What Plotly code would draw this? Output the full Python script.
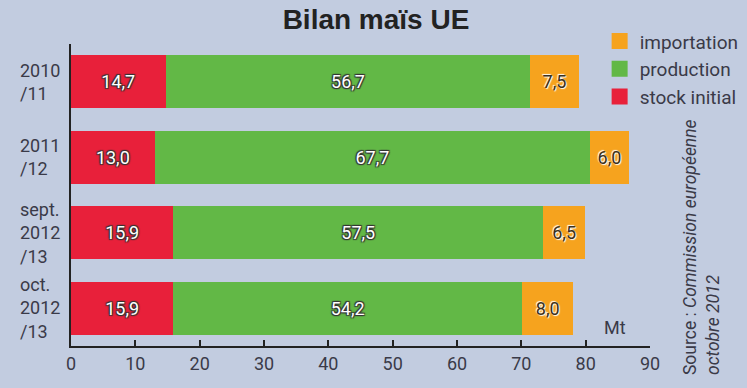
import plotly.graph_objects as go

categories = ["2010<br>/11", "2011<br>/12", "sept.<br>2012<br>/13", "oct.<br>2012<br>/13"]
stock_initial = [14.7, 13.0, 15.9, 15.9]
production = [56.7, 67.7, 57.5, 54.2]
importation = [7.5, 6.0, 6.5, 8.0]
x_ticks = [0, 10, 20, 30, 40, 50, 60, 70, 80, 90]

BG = "#c2cce0"
RED = "#e8203a"
GREEN = "#62b846"
ORANGE = "#f6a31e"
FONT = "Roboto, sans-serif"
TXT = "#3a3a48"

def fmt(v):
    return f"{v:.1f}".replace(".", ",")

fig = go.Figure()
dark_sh = "1px 1px 1px #333, -1px -1px 1px #333, 1px -1px 1px #333, -1px 1px 1px #333"
series = [
    ("stock initial", stock_initial, RED, "white", dark_sh),
    ("production", production, GREEN, "white", dark_sh),
    ("importation", importation, ORANGE, "#3a3020", "1px 1px 1px #fff, -1px -1px 1px #fff"),
]
for name, vals, col, tcol, sh in series:
    fig.add_trace(go.Bar(
        y=categories, x=vals, orientation="h", name=name,
        marker=dict(color=col, line=dict(width=0)),
        text=[fmt(v) for v in vals], textposition="inside",
        insidetextanchor="middle",
        textfont=dict(family=FONT, size=18, color=tcol, shadow=sh),
        showlegend=False, width=0.7,
    ))
for name, vals, col, tcol, sh in reversed(series):
    fig.add_trace(go.Scatter(
        x=[None], y=[None], mode="markers", name=name, legendgroup=name,
        marker=dict(symbol="square", size=20, color=col),
    ))

annotations = [
    dict(text=cat, x=-0.0915, y=cat, xref="paper", yref="y", xanchor="left",
         yanchor="middle", align="left", showarrow=False,
         font=dict(family=FONT, size=18, color=TXT))
    for cat in categories
]
annotations += [
    dict(text="Mt", x=84.5, y=3.25, xref="x", yref="y", showarrow=False,
         font=dict(family=FONT, size=18, color=TXT)),
    dict(text="Source : <i>Commission européenne</i><br><i>octobre 2012</i>",
         x=1.09, y=0.328, xref="paper", yref="paper", showarrow=False,
         xanchor="center", yanchor="middle",
         textangle=-90, align="left",
         font=dict(family=FONT, size=17.5, color=TXT)),
]

fig.update_layout(
    width=747, height=388,
    barmode="stack",
    paper_bgcolor=BG, plot_bgcolor=BG,
    margin=dict(l=71, r=97, t=44, b=42, autoexpand=False),
    title=dict(text="<b>Bilan maïs UE</b>", x=376/747, xanchor="center",
               y=1 - 19/388, yanchor="middle",
               font=dict(family="Liberation Sans, Arial, sans-serif", size=28, color="#222")),
    font=dict(family=FONT, size=17, color=TXT),
    legend=dict(x=0.913, y=1.072, xanchor="left", yanchor="top", traceorder="normal",
                bgcolor="rgba(0,0,0,0)", font=dict(family=FONT, size=19, color=TXT),
                itemwidth=30, tracegroupgap=2),
    xaxis=dict(range=[0, 90], tickvals=x_ticks, ticks="inside", ticklen=6,
               tickwidth=2, tickcolor="#222", showline=True, linecolor="#222",
               linewidth=2, showgrid=False, zeroline=False, automargin=False,
               tickfont=dict(family=FONT, size=18, color=TXT)),
    yaxis=dict(autorange="reversed", showline=True, linecolor="#222", linewidth=2,
               showgrid=False, ticks="", showticklabels=False, automargin=False),
    annotations=annotations,
)
fig.write_html("out.html", config={"displayModeBar": False},
               post_script="document.body.style.margin='0';document.body.style.background='" + BG + "';")
